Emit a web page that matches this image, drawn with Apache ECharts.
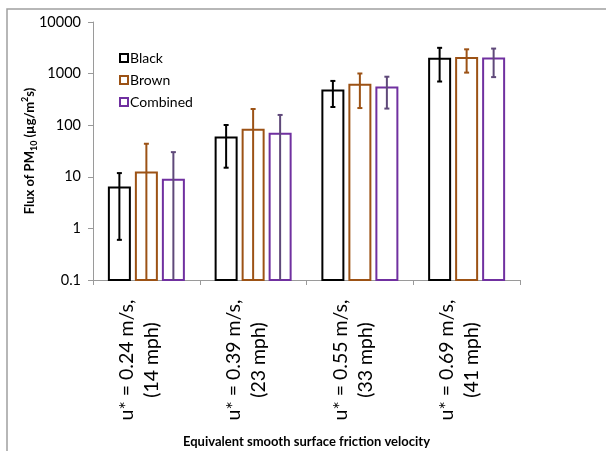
<!DOCTYPE html>
<html>
<head>
<meta charset="utf-8">
<script src="https://cdn.jsdelivr.net/npm/echarts@6/dist/echarts.min.js"></script>
<style>
  html, body { margin: 0; padding: 0; background: #fff; overflow: hidden; }
  #chart { width: 606px; height: 451px; }
</style>
</head>
<body>
<div id="chart"></div>
<script>
// Friction velocity classes (two-line axis labels)
const categories = [
  'u* = 0.24 m/s,\n(14 mph)',
  'u* = 0.39 m/s,\n(23 mph)',
  'u* = 0.55 m/s,\n(33 mph)',
  'u* = 0.69 m/s,\n(41 mph)'
];
const seriesNames = ['Black', 'Brown', 'Combined'];

// Mean PM10 flux (µg/m²s) and ± standard deviation per soil type
const blackMean    = [6.2, 58, 473, 1930];
const blackSd      = [5.6, 43, 248, 1228];
const brownMean    = [12.1, 82, 610, 2000];
const brownSd      = [31.6, 124, 395, 955];
const combinedMean = [8.75, 68, 540, 1955];
const combinedSd   = [21.3, 90, 330, 1100];

const yTickLabels = ['0.1', '1', '10', '100', '1000', '10000'];
const yMin = 0.1, yMax = 10000;

const barColors = ['#000000', '#9c5215', '#7030a0'];
const errColors = ['#000000', '#9c5215', '#5f497a'];

const means = [blackMean, brownMean, combinedMean];
const sds = [blackSd, brownSd, combinedSd];

const chart = echarts.init(document.getElementById('chart'), null, { renderer: 'canvas', width: 606, height: 451 });

const BAR_W = 23, BAR_STEP = 27, CAP = 2.5;

function makeSeries(s) {
  const data = means[s].map((m, i) => [i, m, sds[s][i]]);
  return {
    name: seriesNames[s],
    type: 'custom',
    data: data,
    encode: { x: 0, y: 1 },
    itemStyle: { color: '#fff', borderColor: barColors[s], borderWidth: 2 },
    renderItem: function (params, api) {
      const i = api.value(0), m = api.value(1), sd = api.value(2);
      const top = api.coord([i, m]);
      const base = api.coord([i, yMin]);
      const cx = top[0] + (s - 1) * BAR_STEP;
      const hiVal = m + sd, loVal = m - sd;
      const yHi = api.coord([i, Math.min(hiVal, yMax)])[1];
      const lowClipped = !(loVal > yMin);
      const yLo = lowClipped ? base[1] : api.coord([i, loVal])[1];
      const children = [
        {
          type: 'rect',
          shape: { x: cx - (BAR_W - 2) / 2, y: top[1], width: BAR_W - 2, height: base[1] - top[1] },
          style: { fill: '#fff', stroke: barColors[s], lineWidth: 2 }
        },
        {
          type: 'line',
          shape: { x1: cx, y1: yHi, x2: cx, y2: yLo },
          style: { stroke: errColors[s], lineWidth: 2 }
        },
        {
          type: 'line',
          shape: { x1: cx - CAP, y1: yHi, x2: cx + CAP, y2: yHi },
          style: { stroke: errColors[s], lineWidth: 2 }
        }
      ];
      if (!lowClipped) {
        children.push({
          type: 'line',
          shape: { x1: cx - CAP, y1: yLo, x2: cx + CAP, y2: yLo },
          style: { stroke: errColors[s], lineWidth: 2 }
        });
      }
      return { type: 'group', children: children };
    }
  };
}

const FONT = 'Lato, "Open Sans", sans-serif';

const option = {
  animation: false,
  textStyle: { fontFamily: FONT },
  grid: { left: 93, width: 427, top: 22, height: 258, containLabel: false, outerBoundsMode: 'none' },
  legend: {
    orient: 'vertical',
    left: 114,
    top: 46,
    itemWidth: 8,
    itemHeight: 8,
    itemGap: 8,
    icon: 'rect',
    textStyle: { fontFamily: FONT, fontSize: 14, color: '#000', padding: [0, 0, 0, -3] },
    data: seriesNames.map((n, s) => ({
      name: n,
      itemStyle: { color: '#fff', borderColor: barColors[s], borderWidth: 2 }
    }))
  },
  xAxis: {
    type: 'category',
    data: categories,
    name: 'Equivalent smooth surface friction velocity',
    nameLocation: 'middle',
    nameGap: 155,
    nameMoveOverlap: false,
    nameTextStyle: { fontFamily: FONT, fontSize: 13, fontWeight: 'bold', color: '#000' },
    axisLine: { lineStyle: { color: '#9a9a9a', width: 1 } },
    axisTick: { show: true, length: 5, alignWithLabel: false, lineStyle: { color: '#9a9a9a' } },
    axisLabel: {
      interval: 0,
      rotate: 90,
      align: 'center',
      verticalAlign: 'middle',
      margin: 80,
      color: '#000',
      // two centred lines plus a short spacer line so the pair sits slightly left of the category centre
      formatter: function (v) {
        return v.split('\n').map(t => '{t|' + t + '}').join('\n') + '\n{sp| }';
      },
      rich: {
        t: { fontFamily: FONT, fontSize: 19.5, lineHeight: 25, color: '#000', align: 'center' },
        sp: { fontSize: 4, lineHeight: 14 }
      }
    }
  },
  yAxis: {
    type: 'log',
    logBase: 10,
    min: yMin,
    max: yMax,
    name: '{b|Flux of PM}{sub|10}{b| (µg/m}{sup|2}{b|s)}',
    nameLocation: 'middle',
    nameGap: 54,
    nameRotate: 90,
    nameMoveOverlap: false,
    nameTextStyle: {
      rich: {
        b: { fontFamily: FONT, fontSize: 13, fontWeight: 'bold', color: '#000', lineHeight: 18, verticalAlign: 'middle' },
        sub: { fontFamily: FONT, fontSize: 9, fontWeight: 'bold', color: '#000', lineHeight: 18, verticalAlign: 'bottom' },
        sup: { fontFamily: FONT, fontSize: 9, fontWeight: 'bold', color: '#000', lineHeight: 18, verticalAlign: 'top' }
      }
    },
    axisLine: { show: true, lineStyle: { color: '#9a9a9a', width: 1 } },
    axisTick: { show: true, length: 5, lineStyle: { color: '#9a9a9a' } },
    splitLine: { show: false },
    axisLabel: {
      margin: 12,
      fontFamily: FONT,
      fontSize: 14.5,
      color: '#000',
      formatter: function (v) {
        const k = Math.round(Math.log10(v)) + 1;
        return yTickLabels[k] !== undefined ? yTickLabels[k] : '';
      }
    }
  },
  graphic: [
    {
      type: 'polyline',
      silent: true,
      shape: { points: [[7, 451], [7, 9], [606, 9]] },
      style: { stroke: '#a0a0a0', lineWidth: 1.5, fill: null }
    }
  ],
  series: [makeSeries(0), makeSeries(1), makeSeries(2)]
};

chart.setOption(option);
</script>
</body>
</html>
